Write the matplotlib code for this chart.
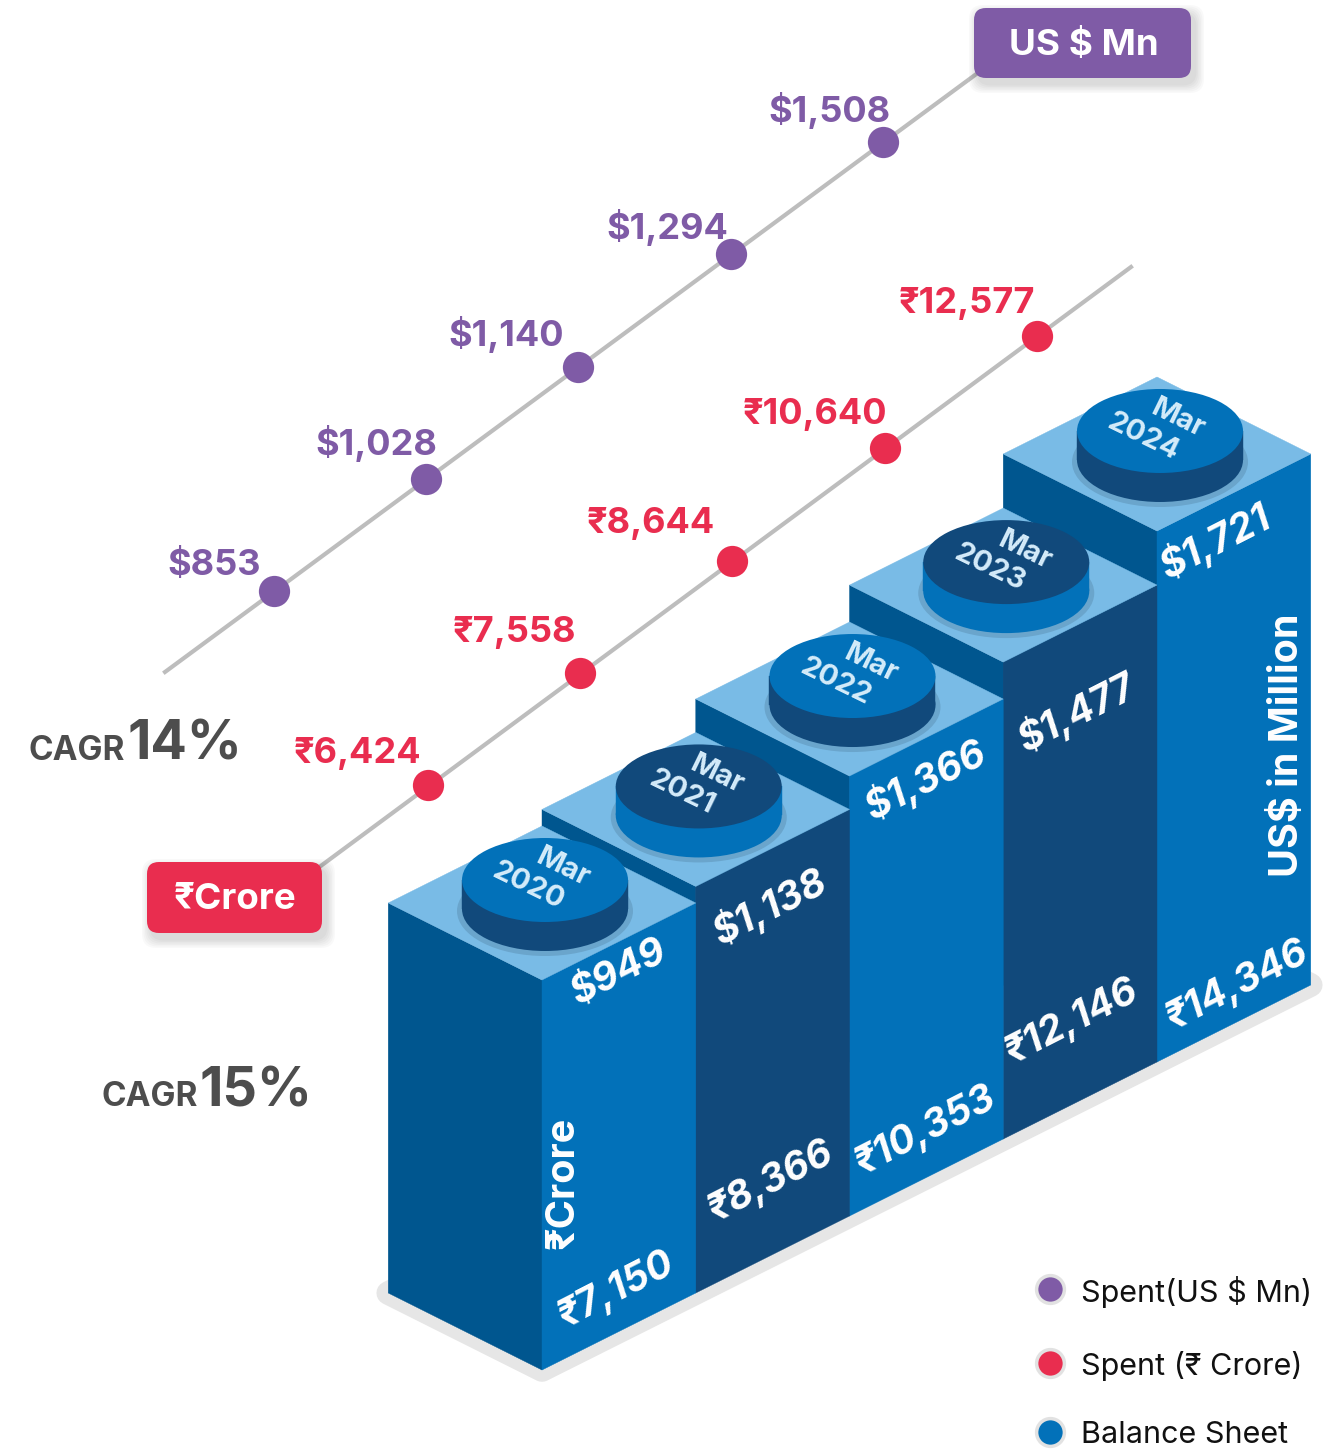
# -*- coding: utf-8 -*-
# Isometric balance sheet / spend infographic

from matplotlib import pyplot as plt
from matplotlib.patches import Polygon, Ellipse, FancyBboxPatch

import numpy as np

plt.rcParams['font.family'] = ['Inter', 'DejaVu Sans']

years = ['2020', '2021', '2022', '2023', '2024']
spent_usd = [853, 1028, 1140, 1294, 1508]
spent_inr = [6424, 7558, 8644, 10640, 12577]
balance_usd = [949, 1138, 1366, 1477, 1721]
balance_inr = [7150, 8366, 10353, 12146, 14346]
legend_labels = ['Spent(US $ Mn)', 'Spent (₹ Crore)', 'Balance Sheet']
cagr_labels = ['14%', '15%']

#colours
purple = '#7F5BA6'
red = '#E92D4F'
blue = '#0271B9'
navy = '#11497B'
side = '#00568F'
top_c = '#79BBE6'
grey = '#BDBDBD'
white = '#FFFFFF'

#iso step between blocks, and scale from crore to pixels of block height
step_x, step_y = 153.75, 77
base_x, base_y = 542, 1370

def block_height(v):
    u = (v - 7150) / 1000
    return 390 + 12.4 * u + u ** 2

fig = plt.figure(figsize=(13.41, 14.5), dpi=100)
ax = fig.add_axes([0, 0, 1, 1])
ax.set_xlim(0, 1341)
ax.set_ylim(1450, 0)
ax.axis('off')

#floor shadow
n = len(years)
floor = [(base_x - step_x, base_y - step_y),
         (base_x, base_y),
         (base_x + n * step_x, base_y - n * step_y),
         (base_x + (n - 1) * step_x, base_y - (n + 1) * step_y)]
ax.add_patch(Polygon(floor, closed=True, fc='#E6E6E6', ec='#E6E6E6', lw=17,
                     joinstyle='round', zorder=1))

#blocks back to front so that the front ones cover the left faces
for i in range(n - 1, -1, -1):
    x = base_x + i * step_x
    y = base_y - i * step_y
    t = y - block_height(balance_inr[i])
    z = 2 + (n - i) * 0.1
    face = blue if i % 2 == 0 else navy
    disc_top = blue if i % 2 == 0 else navy
    disc_side = navy if i % 2 == 0 else blue
    ax.add_patch(Polygon([(x - step_x, t - step_y), (x, t), (x, y), (x - step_x, y - step_y)],
                         fc=side, ec=side, lw=0.3, zorder=z))
    ax.add_patch(Polygon([(x, t), (x + step_x, t - step_y), (x + step_x, y - step_y), (x, y)],
                         fc=face, ec=face, lw=0.3, zorder=z))
    ax.add_patch(Polygon([(x - step_x, t - step_y), (x, t), (x + step_x, t - step_y), (x, t - 2 * step_y)],
                         fc=top_c, ec=top_c, lw=0.3, zorder=z))
    #round stud on top of the block
    cx, cy = x + 3, t - step_y - 23
    ax.add_patch(Ellipse((cx, cy + 31), 176, 90, fc='#6AA5CC', zorder=z))
    ax.add_patch(Ellipse((cx, cy + 29), 166, 84, fc=disc_side, zorder=z))
    ax.add_patch(Polygon([(cx - 83, cy), (cx + 83, cy), (cx + 83, cy + 29), (cx - 83, cy + 29)],
                         fc=disc_side, ec=disc_side, lw=0.3, zorder=z))
    ax.add_patch(Ellipse((cx, cy), 166, 84, fc=disc_top, zorder=z))
    ax.text(cx + 18, cy - 12, 'Mar', color='#D5ECFA', fontsize=21, fontweight='bold',
            rotation=-26, ha='center', va='center', rotation_mode='anchor', zorder=z)
    ax.text(cx - 17, cy + 6, years[i], color='#D5ECFA', fontsize=21, fontweight='bold',
            rotation=-26, ha='center', va='center', rotation_mode='anchor', zorder=z)

#value labels on the right faces
usd_pos = [(619, 972), (770, 907), (925, 780), (1077, 713), (1215, 542)]
inr_pos = [(616, 1290), (770, 1182), (925, 1131), (1071, 1022), (1237, 985)]
for i in range(n):
    ax.text(usd_pos[i][0], usd_pos[i][1], f'${balance_usd[i]:,}', color=white, fontsize=28,
            fontweight='bold', style='italic', rotation=27, ha='center', va='center',
            rotation_mode='anchor', zorder=5)
    ax.text(inr_pos[i][0], inr_pos[i][1], f'₹{balance_inr[i]:,}', color=white, fontsize=28,
            fontweight='bold', style='italic', rotation=27, ha='center', va='center',
            rotation_mode='anchor', zorder=5)

ax.text(1288, 745, 'US$ in Million', color=white, fontsize=28.5, fontweight='bold',
        rotation=90, ha='center', va='center', zorder=5)
ax.text(563, 1183, '₹Crore', color=white, fontsize=28.5, fontweight='bold',
        rotation=90, ha='center', va='center', zorder=5)

#spend lines, points evenly along each line
ax.plot([165, 975], [672, 75], color=grey, lw=3, zorder=1)
ax.plot([318, 1131], [868, 267], color=grey, lw=3, zorder=1)

usd_x = np.linspace(274, 883, n)
usd_y = np.linspace(591, 142, n)
inr_x = np.linspace(428, 1037, n)
inr_y = np.linspace(785, 336, n)
ax.plot(usd_x, usd_y, ls='none', marker='o', ms=22.5, mfc=purple, mec='none', zorder=3)
ax.plot(inr_x, inr_y, ls='none', marker='o', ms=22.5, mfc=red, mec='none', zorder=3)

usd_lab = [(214, 565), (376, 443), (506, 334), (667, 227), (829, 110)]
inr_lab = [(357, 753), (514, 632), (651, 523), (815, 414), (967, 303)]
for i in range(n):
    ax.text(usd_lab[i][0], usd_lab[i][1], f'${spent_usd[i]:,}', color=purple, fontsize=26,
            fontweight='bold', ha='center', va='center', zorder=4)
    ax.text(inr_lab[i][0], inr_lab[i][1], f'₹{spent_inr[i]:,}', color=red, fontsize=26,
            fontweight='bold', ha='center', va='center', zorder=4)

#badges with a soft shadow
for (bx, by, bw, bh, col, lab) in [(974, 8, 217, 70, purple, 'US $ Mn'),
                                   (147, 862, 175, 71, red, '₹Crore')]:
    for k in range(6, 0, -1):
        ax.add_patch(FancyBboxPatch((bx + 4, by + 6), bw, bh, boxstyle=f'round,pad={k * 1.5},rounding_size=14',
                                    fc='#000000', ec='none', alpha=0.025, zorder=5))
    ax.add_patch(FancyBboxPatch((bx, by), bw, bh, boxstyle='round,pad=0,rounding_size=12',
                                fc=col, ec='none', zorder=6))
    ax.text(bx + bw / 2 + 1, by + bh / 2 + 2, lab, color=white, fontsize=26.5, fontweight='bold',
            ha='center', va='center', zorder=7)

#CAGR labels
for (x1, y1, x2, y2, lab) in [(125, 751, 127, 745, cagr_labels[0]),
                              (198, 1097, 200, 1092, cagr_labels[1])]:
    ax.text(x1, y1, 'CAGR', color='#4D4D4D', fontsize=24, fontweight='bold', ha='right', va='center')
    ax.text(x2, y2, lab, color='#4D4D4D', fontsize=39, fontweight='bold', ha='left', va='center')

#legend
for lab, col, y in zip(legend_labels, [purple, red, blue], [1289, 1363, 1432]):
    ax.plot([1050], [y], ls='none', marker='o', ms=20, mfc=col, mec='#E2E2E2', mew=2.5, zorder=4)
    ax.text(1081, y + 3, lab, color='#111111', fontsize=22, ha='left', va='center')

fig.savefig('out.png', dpi=100)
